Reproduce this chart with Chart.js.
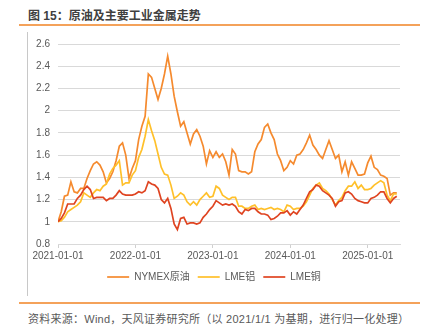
<!DOCTYPE html>
<html>
<head>
<meta charset="utf-8">
<script src="https://cdn.jsdelivr.net/npm/chart.js@4"></script>
<style>
  html, body { margin:0; padding:0; background:#fff; }
  body { width:424px; height:336px; position:relative; overflow:hidden; font-family:"Liberation Sans", Arial, "Noto Sans CJK SC", sans-serif; }
  #title { position:absolute; left:28px; top:6px; font-size:12px; font-weight:bold; color:#404040; font-family:"Liberation Sans","Noto Sans CJK SC",sans-serif; white-space:nowrap; }
  #topline { position:absolute; left:19px; top:24px; width:401px; height:1.5px; background:#F4A25A; }
  #vline { position:absolute; left:27px; top:32px; width:1px; height:264px; background:#c8c8c8; }
  #botline { position:absolute; left:19px; top:302px; width:401px; height:1.5px; background:#F4A25A; }
  #source { position:absolute; left:28px; top:310px; font-size:11px; letter-spacing:0.25px; color:#595959; white-space:nowrap; font-family:"Liberation Sans","Noto Sans CJK SC",sans-serif; }
  #wrap { position:absolute; left:0; top:0; width:424px; height:300px; }
</style>
</head>
<body>
<div id="title">图 15：原油及主要工业金属走势</div>
<div id="topline"></div>
<div id="vline"></div>
<div id="wrap"><canvas id="c" width="424" height="300"></canvas></div>
<div id="botline"></div>
<div id="source">资料来源：Wind，天风证券研究所（以 2021/1/1 为基期，进行归一化处理）</div>
<script>
// Semi-monthly observation dates
const dates = [
'2021-01-01','2021-01-16','2021-02-01','2021-02-16','2021-03-01','2021-03-16','2021-04-01','2021-04-16','2021-05-01','2021-05-16','2021-06-01','2021-06-16',
'2021-07-01','2021-07-16','2021-08-01','2021-08-16','2021-09-01','2021-09-16','2021-10-01','2021-10-16','2021-11-01','2021-11-16','2021-12-01','2021-12-16',
'2022-01-01','2022-01-16','2022-02-01','2022-02-16','2022-03-01','2022-03-16','2022-04-01','2022-04-16','2022-05-01','2022-05-16','2022-06-01','2022-06-16',
'2022-07-01','2022-07-16','2022-08-01','2022-08-16','2022-09-01','2022-09-16','2022-10-01','2022-10-16','2022-11-01','2022-11-16','2022-12-01','2022-12-16',
'2023-01-01','2023-01-16','2023-02-01','2023-02-16','2023-03-01','2023-03-16','2023-04-01','2023-04-16','2023-05-01','2023-05-16','2023-06-01','2023-06-16',
'2023-07-01','2023-07-16','2023-08-01','2023-08-16','2023-09-01','2023-09-16','2023-10-01','2023-10-16','2023-11-01','2023-11-16','2023-12-01','2023-12-16',
'2024-01-01','2024-01-16','2024-02-01','2024-02-16','2024-03-01','2024-03-16','2024-04-01','2024-04-16','2024-05-01','2024-05-16','2024-06-01','2024-06-16',
'2024-07-01','2024-07-16','2024-08-01','2024-08-16','2024-09-01','2024-09-16','2024-10-01','2024-10-16','2024-11-01','2024-11-16','2024-12-01','2024-12-16',
'2025-01-01','2025-01-16','2025-02-01','2025-02-16','2025-03-01','2025-03-16','2025-04-01','2025-04-16','2025-05-01','2025-05-16'
];
const nymex = [
1.00,1.09,1.23,1.24,1.36,1.27,1.26,1.30,1.30,1.39,1.46,1.52,
1.54,1.51,1.45,1.35,1.39,1.45,1.55,1.68,1.71,1.60,1.39,1.48,
1.55,1.74,1.86,1.95,2.33,2.30,2.20,2.10,2.20,2.33,2.49,2.33,
2.13,1.99,1.86,1.90,1.80,1.70,1.79,1.83,1.77,1.68,1.52,1.64,
1.58,1.63,1.58,1.61,1.54,1.42,1.65,1.61,1.46,1.45,1.45,1.43,
1.45,1.63,1.70,1.74,1.85,1.88,1.80,1.74,1.61,1.55,1.46,1.49,
1.55,1.52,1.60,1.61,1.65,1.71,1.78,1.69,1.65,1.60,1.57,1.65,
1.73,1.65,1.57,1.60,1.45,1.54,1.42,1.54,1.48,1.42,1.42,1.43,
1.53,1.59,1.49,1.47,1.42,1.41,1.39,1.24,1.26,1.26
];
const lmeAl = [
1.00,1.01,1.04,1.09,1.11,1.13,1.15,1.18,1.26,1.24,1.22,1.26,
1.29,1.28,1.32,1.34,1.43,1.48,1.51,1.55,1.33,1.35,1.35,1.42,
1.46,1.58,1.65,1.77,1.92,1.82,1.73,1.61,1.49,1.43,1.42,1.33,
1.21,1.23,1.26,1.24,1.18,1.15,1.18,1.15,1.20,1.23,1.26,1.22,
1.23,1.32,1.30,1.24,1.22,1.20,1.22,1.22,1.14,1.14,1.12,1.12,
1.14,1.15,1.11,1.12,1.11,1.12,1.13,1.11,1.12,1.11,1.09,1.15,
1.14,1.11,1.12,1.12,1.14,1.18,1.24,1.30,1.33,1.35,1.30,1.28,
1.25,1.20,1.15,1.19,1.22,1.28,1.32,1.32,1.36,1.30,1.33,1.29,
1.29,1.30,1.33,1.35,1.37,1.35,1.24,1.19,1.25,1.25
];
const lmeCu = [
1.00,1.03,1.08,1.16,1.16,1.16,1.21,1.24,1.29,1.32,1.29,1.21,
1.22,1.22,1.22,1.19,1.21,1.21,1.24,1.28,1.25,1.24,1.24,1.24,
1.25,1.27,1.26,1.28,1.36,1.34,1.33,1.30,1.20,1.17,1.21,1.12,
0.98,0.93,1.03,1.04,0.98,0.99,0.99,0.98,0.99,1.04,1.07,1.11,
1.14,1.19,1.17,1.15,1.16,1.15,1.16,1.14,1.09,1.07,1.11,1.10,
1.12,1.12,1.09,1.07,1.07,1.06,1.02,1.03,1.05,1.08,1.08,1.10,
1.06,1.09,1.07,1.11,1.15,1.21,1.27,1.29,1.33,1.32,1.28,1.26,
1.24,1.21,1.14,1.18,1.19,1.26,1.27,1.25,1.21,1.19,1.18,1.17,
1.17,1.21,1.22,1.24,1.27,1.27,1.21,1.17,1.21,1.23
];
const seriesNames = ['NYMEX原油','LME铝','LME铜'];
const tickLabels = ['2021-01-01','2022-01-01','2023-01-01','2024-01-01','2025-01-01'];
const yTicks = [0.8,1,1.2,1.4,1.6,1.8,2,2.2,2.4,2.6];

// convert date to months since 2021-01 for the linear time-like axis
function monthPos(d){
  const [y,m,dd] = d.split('-').map(Number);
  return (y-2021)*12 + (m-1) + (dd-1)/30;
}
function pts(vals){ return vals.map((v,i)=>({x: monthPos(dates[i]), y: v})); }
const tickPos = tickLabels.map(monthPos);

const colors = ['#F58A2E','#FFC02A','#DF4421'];
const FONT = '"Liberation Sans", Arial, "Noto Sans CJK SC", sans-serif';
Chart.defaults.font.family = FONT;
Chart.defaults.color = '#595959';

new Chart(document.getElementById('c'), {
  type: 'line',
  data: {
    datasets: [nymex, lmeAl, lmeCu].map((s,k)=>({
      label: seriesNames[k],
      data: pts(s),
      borderColor: colors[k],
      backgroundColor: colors[k],
      borderWidth: 1.7,
      pointRadius: 0,
      tension: 0,
      order: 3-k
    }))
  },
  options: {
    responsive: false,
    animation: false,
    events: [],
    layout: { padding: { left: 28, right: 24, top: 44, bottom: 8 } },
    plugins: {
      legend: {
        position: 'bottom',
        labels: {
          usePointStyle: true,
          pointStyle: 'line',
          pointStyleWidth: 22,
          boxHeight: 10,
          padding: 8,
          font: { size: 10 },
          color: '#595959',
          sort: (a,b) => a.datasetIndex - b.datasetIndex
        }
      },
      tooltip: { enabled: false }
    },
    scales: {
      x: {
        type: 'linear',
        min: 0, max: 53,
        afterBuildTicks: s => { s.ticks = tickPos.map(v=>({value:v})); },
        ticks: {
          callback: (v) => { const i = tickPos.indexOf(v); return i>=0 ? tickLabels[i] : ''; },
          font: { size: 10 }, color: '#595959', padding: 2, maxRotation: 0, autoSkip: false
        },
        grid: { drawOnChartArea: false, drawTicks: true, tickLength: 4, color: '#d0d0d0' },
        border: { display: true, color: '#d9d9d9', width: 1 }
      },
      y: {
        min: 0.8, max: 2.6,
        afterBuildTicks: s => { s.ticks = yTicks.map(v=>({value:v})); },
        afterFit: s => { s.width = 30; },
        ticks: { font: { size: 10 }, color: '#595959', padding: 8, callback: v => String(Math.round(v*10)/10) },
        grid: { color: '#d9d9d9', lineWidth: 1, drawTicks: false },
        border: { display: false }
      }
    }
  }
});
</script>
</body>
</html>
